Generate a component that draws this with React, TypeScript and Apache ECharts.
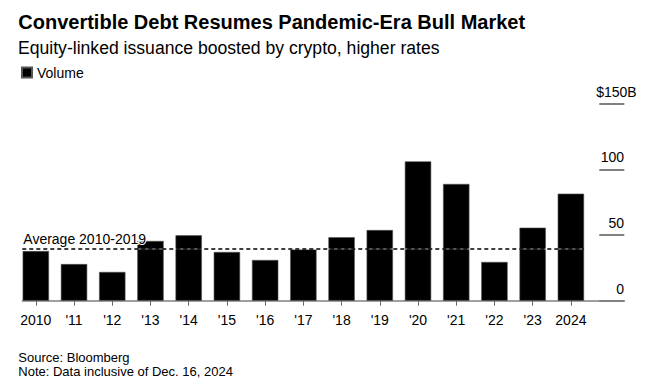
import React, { useEffect, useRef } from "react";
import * as echarts from "echarts";

const TITLE = "Convertible Debt Resumes Pandemic-Era Bull Market";
const SUBTITLE = "Equity-linked issuance boosted by crypto, higher rates";
const SOURCE = "Source: Bloomberg";
const NOTE = "Note: Data inclusive of Dec. 16, 2024";
const SERIES_NAME = "Volume";
const AVG_LABEL = "Average 2010-2019";

const categories = ["2010", "'11", "'12", "'13", "'14", "'15", "'16", "'17", "'18", "'19", "'20", "'21", "'22", "'23", "2024"];
const volume = [37.8, 27.9, 21.9, 45.5, 49.8, 37.1, 31.0, 39.1, 48.3, 53.8, 106.1, 88.9, 29.5, 55.6, 81.5];
const average2010to2019 = 39.2;
const yTicks = [0, 50, 100, 150];

const FONT = "'Liberation Sans', Arial, Helvetica, sans-serif";

export default function App() {
  const ref = useRef<HTMLDivElement>(null);

  useEffect(() => {
    if (!ref.current) return;
    const chart = echarts.init(ref.current, undefined, { renderer: "svg" });
    const top = 103.7;
    const bottom = 88.3;
    const yMax = yTicks[yTicks.length - 1];
    const yInterval = yTicks[1] - yTicks[0];

    chart.setOption({
      animation: false,
      backgroundColor: "#ffffff",
      textStyle: { fontFamily: FONT },
      grid: [
        { left: 16.7, right: 60, top, bottom },
        { left: 22.3, right: 25.7, top, bottom },
        { left: 22.3, right: 66, top, bottom },
      ],
      legend: {
        data: [SERIES_NAME],
        left: 21,
        top: 65.5,
        padding: 0,
        icon: "rect",
        itemWidth: 10,
        itemHeight: 10,
        itemGap: 5,
        textStyle: { fontSize: 14, color: "#000", fontFamily: FONT },
        selectedMode: false,
      },
      xAxis: [
        {
          type: "category",
          gridIndex: 0,
          data: categories,
          axisLine: { show: false },
          axisTick: { show: true, alignWithLabel: true, length: 5, lineStyle: { color: "#666", width: 1 } },
          axisLabel: { fontSize: 14, color: "#000", margin: 12, fontFamily: FONT, interval: 0 },
        },
        {
          type: "value",
          gridIndex: 1,
          min: 0,
          max: 1,
          axisLine: { show: true, onZero: false, lineStyle: { color: "#808080", width: 1.5 } },
          axisTick: { show: false },
          axisLabel: { show: false },
          splitLine: { show: false },
        },
        {
          type: "value",
          gridIndex: 2,
          min: 0,
          max: 1,
          show: false,
        },
      ],
      yAxis: [
        { type: "value", gridIndex: 0, min: 0, max: yMax, show: false },
        {
          type: "value",
          gridIndex: 1,
          position: "right",
          min: 0,
          max: yMax,
          interval: yInterval,
          axisLine: { show: false, onZero: false },
          axisTick: { show: true, inside: true, length: 25, lineStyle: { color: "#808080", width: 2 } },
          splitLine: { show: false },
          axisLabel: {
            show: true,
            align: "right",
            verticalAlign: "bottom",
            margin: 12.4,
            padding: [0, 0, 5, 0],
            formatter: (v: number) => (v === yMax ? `{t|$${v}B}` : `{n|${v}}`),
            rich: {
              t: { fontSize: 14, color: "#000", fontFamily: FONT },
              n: { fontSize: 14, color: "#000", fontFamily: FONT, padding: [0, 12.6, 0, 0] },
            },
          },
        },
        { type: "value", gridIndex: 2, min: 0, max: yMax, show: false },
      ],
      series: [
        {
          name: SERIES_NAME,
          type: "bar",
          xAxisIndex: 0,
          yAxisIndex: 0,
          data: volume,
          barWidth: "69%",
          itemStyle: { color: "#000", borderColor: "#555", borderWidth: 0.6 },
          z: 2,
        },
        {
          name: "avg",
          type: "line",
          xAxisIndex: 2,
          yAxisIndex: 2,
          data: [],
          z: 5,
          markLine: {
            silent: true,
            symbol: "none",
            animation: false,
            data: [
              {
                yAxis: average2010to2019,
                lineStyle: { color: "rgba(255,255,255,0.45)", width: 1.5, type: "solid" },
                label: { show: false },
              },
              {
                yAxis: average2010to2019,
                lineStyle: { color: "#000", width: 1.5, type: [4, 3] },
                label: {
                  show: true,
                  position: "insideStartTop",
                  formatter: AVG_LABEL,
                  fontSize: 14,
                  color: "#000",
                  fontFamily: FONT,
                  distance: [1, 3],
                  textBorderColor: "#fff",
                  textBorderWidth: 2,
                },
              },
            ],
          },
        },
      ],
      graphic: [
        {
          type: "text",
          style: { text: TITLE, x: 18.3, y: 21.7, fontSize: 20, fontWeight: "bold", fill: "#000", fontFamily: FONT, verticalAlign: "middle" },
        },
        {
          type: "text",
          style: { text: SUBTITLE, x: 18, y: 47.9, fontSize: 17.6, fill: "#000", fontFamily: FONT, verticalAlign: "middle" },
        },
        {
          type: "text",
          style: { text: SOURCE, x: 18.3, y: 357.2, fontSize: 13, fill: "#000", fontFamily: FONT, verticalAlign: "middle" },
        },
        {
          type: "text",
          style: { text: NOTE, x: 18.3, y: 371.7, fontSize: 13, fill: "#000", fontFamily: FONT, verticalAlign: "middle" },
        },
      ],
    });
    return () => chart.dispose();
  }, []);

  return <div ref={ref} style={{ position: "fixed", left: 0, top: 0, width: 650, height: 389 }} />;
}
